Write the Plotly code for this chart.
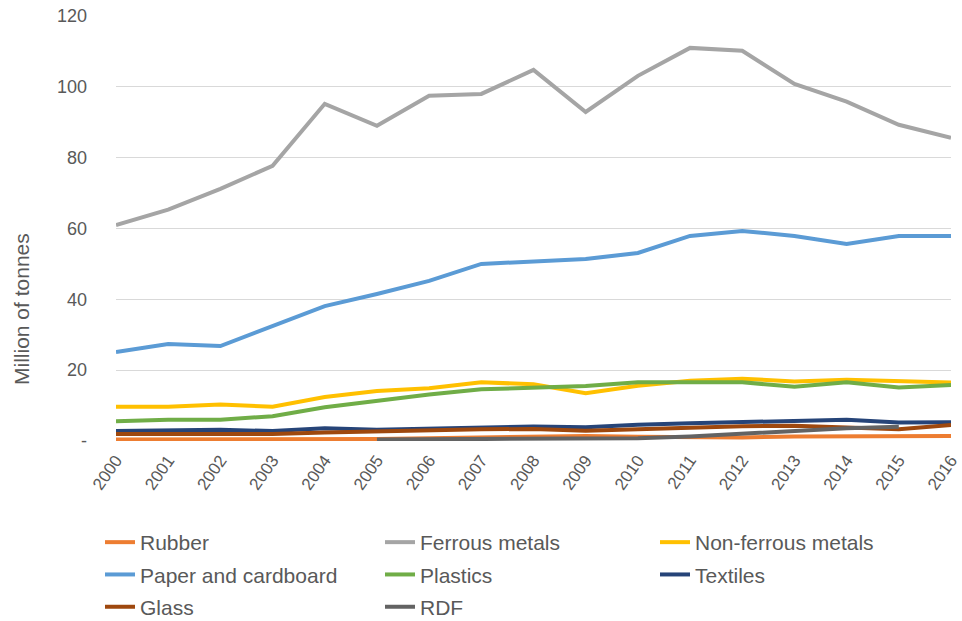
import plotly.graph_objects as go

years = list(range(2000, 2017))

rubber = [0.4, 0.4, 0.4, 0.4, 0.5, 0.6, 0.8, 1.0, 1.3, 1.4, 1.2, 1.0, 1.0, 1.3, 1.4, 1.4, 1.4]
ferrous = [61.0, 65.3, 71.2, 77.7, 95.2, 89.0, 97.5, 98.0, 104.8, 92.9, 103.1, 111.0, 110.2, 100.8, 95.8, 89.3, 85.6]
non_ferrous = [9.7, 9.7, 10.3, 9.7, 12.4, 14.1, 14.9, 16.6, 16.0, 13.5, 15.6, 17.0, 17.6, 16.8, 17.3, 16.8, 16.5]
paper = [25.1, 27.4, 26.8, 32.5, 38.1, 41.5, 45.2, 50.0, 50.8, 51.4, 53.1, 57.9, 59.3, 57.9, 55.6, 57.9, 57.9]
plastics = [5.6, 6.0, 6.0, 7.0, 9.5, 11.4, 13.1, 14.6, 15.1, 15.5, 16.6, 16.6, 16.6, 15.3, 16.6, 15.1, 15.8]
textiles = [2.8, 2.9, 3.2, 2.8, 3.6, 3.2, 3.5, 3.6, 4.1, 3.9, 4.6, 5.0, 5.4, 5.6, 6.0, 5.2, 5.3]
glass = [2.0, 2.0, 2.0, 2.0, 2.4, 2.7, 3.1, 3.3, 3.4, 2.9, 3.3, 3.7, 4.2, 4.3, 3.8, 3.3, 4.5]
rdf = [None, None, None, None, None, 0.4, 0.5, 0.5, 0.6, 0.6, 0.8, 1.3, 2.1, 2.9, 3.6, 4.0, None]

y_tickvals = [0, 20, 40, 60, 80, 100, 120]
y_ticktext = ["-", "20", "40", "60", "80", "100", "120"]

series = [
    ("Rubber", rubber, "#ED7D31", "legend"),
    ("Ferrous metals", ferrous, "#A5A5A5", "legend2"),
    ("Non-ferrous metals", non_ferrous, "#FFC000", "legend3"),
    ("Paper and cardboard", paper, "#5B9BD5", "legend"),
    ("Plastics", plastics, "#70AD47", "legend2"),
    ("Textiles", textiles, "#264478", "legend3"),
    ("Glass", glass, "#9E480E", "legend"),
    ("RDF", rdf, "#636363", "legend2"),
]

FONT = "Liberation Sans, Arial, sans-serif"
GREY = "#595959"

fig = go.Figure()
for name, vals, color, leg in series:
    fig.add_trace(go.Scatter(
        x=years, y=vals, name=name, mode="lines",
        line=dict(color=color, width=4),
        legend=leg, legendgroup=name,
        connectgaps=False,
    ))

legend_common = dict(
    orientation="v", xref="container", yref="container",
    yanchor="top", xanchor="left",
    font=dict(family=FONT, size=21, color=GREY),
    tracegroupgap=2, bgcolor="rgba(0,0,0,0)", itemwidth=30,
)
ytop = 1 - 522 / 621

fig.update_layout(
    width=962, height=621,
    margin=dict(l=116, r=11, t=16, b=180, autoexpand=False),
    plot_bgcolor="white", paper_bgcolor="white",
    font=dict(family=FONT, color=GREY),
    legend=dict(x=100 / 962, y=ytop, **legend_common),
    legend2=dict(x=380 / 962, y=ytop, **legend_common),
    legend3=dict(x=655 / 962, y=ytop, **legend_common),
    xaxis=dict(
        range=[2000, 2016], tickvals=years, ticktext=[str(y) for y in years],
        tickangle=-55, showgrid=False, zeroline=False, showline=False,
        tickfont=dict(family=FONT, size=17, color=GREY),
        ticks="", ticklabelstandoff=5, automargin=False,
        ticklabeloverflow="allow",
    ),
    yaxis=dict(
        range=[0, 120], tickvals=y_tickvals, ticktext=y_ticktext,
        showgrid=True, gridcolor="#D9D9D9", gridwidth=1,
        zeroline=False, showline=False, automargin=False,
        tickfont=dict(family=FONT, size=18, color=GREY),
        ticklabelstandoff=28,
    ),
    annotations=[dict(
        text="Million of tonnes", textangle=-90,
        xref="paper", yref="paper", x=-(116 - 21) / 835, y=(441 - 309) / 425,
        xanchor="center", yanchor="middle", showarrow=False,
        font=dict(family=FONT, size=21, color=GREY),
    )],
)

fig.write_html("out.html")
